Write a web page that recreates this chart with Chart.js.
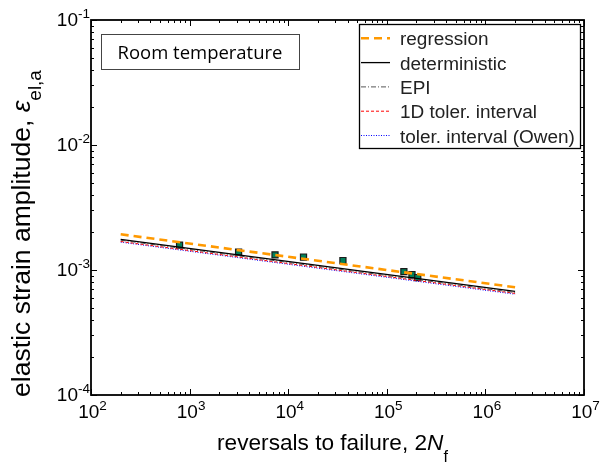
<!DOCTYPE html>
<html><head><meta charset="utf-8">
<script src="https://cdn.jsdelivr.net/npm/chart.js@4/dist/chart.umd.min.js"></script>
<style>html,body{margin:0;padding:0;background:#fff;}#wrap{width:602px;height:468px;position:relative;}</style>
</head><body><div id="wrap"><canvas id="c" width="602" height="468"></canvas></div>
<script>
// ---- data ----
const xTickExps = [2, 3, 4, 5, 6, 7];
const yTickExps = [-1, -2, -3, -4];
const testReversals = [791, 3140, 7350, 14300, 35900, 149000, 180000, 206000];
const testStrain = [1.58e-3, 1.39e-3, 1.32e-3, 1.27e-3, 1.19e-3, 9.7e-4, 9.2e-4, 8.7e-4];
const lineReversals = [200, 2e6];
const regression = [1.93e-3, 7.28e-4];
const deterministic = [1.76e-3, 6.74e-4];
const epi = [1.73e-3, 6.6e-4];
const tol1D = [1.69e-3, 6.5e-4];
const tolOwen = [1.67e-3, 6.4e-4];
const seriesNames = ['regression', 'deterministic', 'EPI', '1D toler. interval', 'toler. interval (Owen)'];
const boxLabel = 'Room temperature';

const pts = (xs, ys) => xs.map((x, i) => ({x: x, y: ys[i]}));
const lineStyles = [
  {borderColor: '#ff9900', borderWidth: 2.6, borderDash: [8, 5]},
  {borderColor: '#000000', borderWidth: 1.3, borderDash: []},
  {borderColor: '#555555', borderWidth: 1, borderDash: [5, 2, 1, 2]},
  {borderColor: '#ff0000', borderWidth: 1, borderDash: [3, 2]},
  {borderColor: '#0000ff', borderWidth: 1, borderDash: [1, 1.5]}
];
const lineData = [regression, deterministic, epi, tol1D, tolOwen];
const datasets = lineData.map((d, i) => Object.assign({
  type: 'line', label: seriesNames[i], data: pts(lineReversals, d),
  pointRadius: 0, fill: false, tension: 0, isLine: true
}, lineStyles[i]));
datasets.push({
  type: 'scatter', label: 'tests', data: pts(testReversals, testStrain),
  pointStyle: 'rect', pointRadius: 4.3, backgroundColor: '#00805a',
  borderColor: '#1a1a1a', borderWidth: 1.2
});

const FONT = '"Liberation Sans", Arial, sans-serif';
function measureSegs(ctx, segs, k) {
  let total = 0;
  return {segs: segs.map(s => {
    const f = (s.it ? 'italic ' : '') + (s.size * k) + 'px ' + FONT;
    ctx.font = f;
    const w = ctx.measureText(s.t).width;
    total += w;
    return Object.assign({}, s, {w: w, font: f, dyk: (s.dy || 0) * k});
  }), total: total};
}
function richText(ctx, segs, x, y, align, targetW) {
  let k = 1;
  if (targetW) { k = targetW / measureSegs(ctx, segs, 1).total; }
  const m = measureSegs(ctx, segs, k);
  let cx = align === 'center' ? x - m.total / 2 : (align === 'right' ? x - m.total : x);
  m.segs.forEach(s => {
    ctx.font = s.font;
    ctx.fillText(s.t, cx, y + s.dyk);
    cx += s.w;
  });
}

const framePlugin = {
  id: 'frame',
  afterDraw(chart) {
    const ctx = chart.ctx, a = chart.chartArea;
    const xs = chart.scales.x, ys = chart.scales.y;
    ctx.save();
    ctx.fillStyle = '#000';
    ctx.strokeStyle = '#000';
    ctx.textBaseline = 'alphabetic';
    ctx.textAlign = 'left';
    // ticks
    ctx.lineWidth = 1;
    ctx.beginPath();
    for (let e = 2; e <= 7; e++) {
      for (let m = 1; m <= 9; m++) {
        const v = m * Math.pow(10, e);
        if (v > 1e7) break;
        const px = Math.round(xs.getPixelForValue(v)) + 0.5;
        const len = m === 1 ? 6 : 3;
        ctx.moveTo(px, a.bottom); ctx.lineTo(px, a.bottom - len);
        ctx.moveTo(px, a.top); ctx.lineTo(px, a.top + len);
      }
    }
    for (let e = -4; e <= -1; e++) {
      for (let m = 1; m <= 9; m++) {
        const v = m * Math.pow(10, e);
        if (v > 0.1 + 1e-12) break;
        const py = Math.round(ys.getPixelForValue(v)) + 0.5;
        const len = m === 1 ? 6 : 3;
        ctx.moveTo(a.left, py); ctx.lineTo(a.left + len, py);
        ctx.moveTo(a.right, py); ctx.lineTo(a.right - len, py);
      }
    }
    ctx.stroke();
    // frame
    ctx.lineWidth = 1.8;
    ctx.strokeRect(a.left, a.top, a.right - a.left, a.bottom - a.top);
    // x tick labels
    xTickExps.forEach(e => {
      const px = xs.getPixelForValue(Math.pow(10, e));
      richText(ctx, [{t: '10', size: 19}, {t: String(e), size: 13.5, dy: -8}], px + 1.5, a.bottom + 23, 'center');
    });
    yTickExps.forEach(e => {
      const py = ys.getPixelForValue(Math.pow(10, e));
      richText(ctx, [{t: '10', size: 19}, {t: String(e), size: 13.5, dy: -8}], a.left - 1, py + 6, 'right');
    });
    // x title
    richText(ctx, [
      {t: 'reversals to failure, 2', size: 21},
      {t: 'N', size: 21, it: true},
      {t: 'f', size: 15, dy: 11}
    ], 332.5, 450, 'center', 231);
    // y title
    ctx.save();
    ctx.translate(30, 233.5);
    ctx.rotate(-Math.PI / 2);
    richText(ctx, [
      {t: 'elastic strain amplitude, ', size: 21},
      {t: '\u03B5', size: 21, it: true},
      {t: 'el,a', size: 15, dy: 9}
    ], 0, 0, 'center', 327);
    ctx.restore();
    // room temperature box
    ctx.fillStyle = '#fff';
    ctx.fillRect(101, 34, 198, 35);
    ctx.strokeStyle = '#444';
    ctx.lineWidth = 1;
    ctx.strokeRect(101.5, 34.5, 198, 35);
    ctx.fillStyle = '#000';
    ctx.font = '17px "Open Sans", sans-serif';
    const rw = ctx.measureText(boxLabel).width;
    ctx.font = (17 * 165 / rw).toFixed(2) + 'px "Open Sans", sans-serif';
    ctx.textAlign = 'center';
    ctx.fillText(boxLabel, 200, 58.5);
    ctx.textAlign = 'left';
    // legend
    const lx = 359, ly = 24, lw = 221, lh = 124;
    ctx.fillStyle = '#fff';
    ctx.fillRect(lx, ly, lw, lh);
    ctx.strokeStyle = '#000';
    ctx.lineWidth = 1.3;
    ctx.strokeRect(lx + 0.5, ly + 0.5, lw, lh);
    ctx.font = '16px ' + FONT;
    const lk = 175 / ctx.measureText(seriesNames[4]).width;
    chart.data.datasets.filter(d => d.isLine).forEach((d, i) => {
      const yy = 38.3 + i * 24.3;
      ctx.strokeStyle = d.borderColor;
      ctx.lineWidth = d.borderWidth;
      ctx.setLineDash(d.borderDash);
      ctx.beginPath();
      ctx.moveTo(lx + 2, yy); ctx.lineTo(lx + 31, yy);
      ctx.stroke();
      ctx.setLineDash([]);
      ctx.fillStyle = '#222';
      ctx.font = (16 * lk).toFixed(2) + 'px ' + FONT;
      ctx.fillText(d.label, 400, yy + 7);
    });
    ctx.restore();
  }
};

new Chart(document.getElementById('c'), {
  data: {datasets: datasets},
  options: {
    responsive: false, animation: false, devicePixelRatio: 1,
    layout: {padding: {left: 83, top: 20, right: 18, bottom: 65}},
    plugins: {legend: {display: false}, tooltip: {enabled: false}},
    scales: {
      x: {type: 'logarithmic', min: 100, max: 1e7, grid: {display: false}, border: {display: false}, ticks: {display: false}},
      y: {type: 'logarithmic', min: 1e-4, max: 1e-1, grid: {display: false}, border: {display: false}, ticks: {display: false}}
    }
  },
  plugins: [framePlugin]
});
</script></body></html>
